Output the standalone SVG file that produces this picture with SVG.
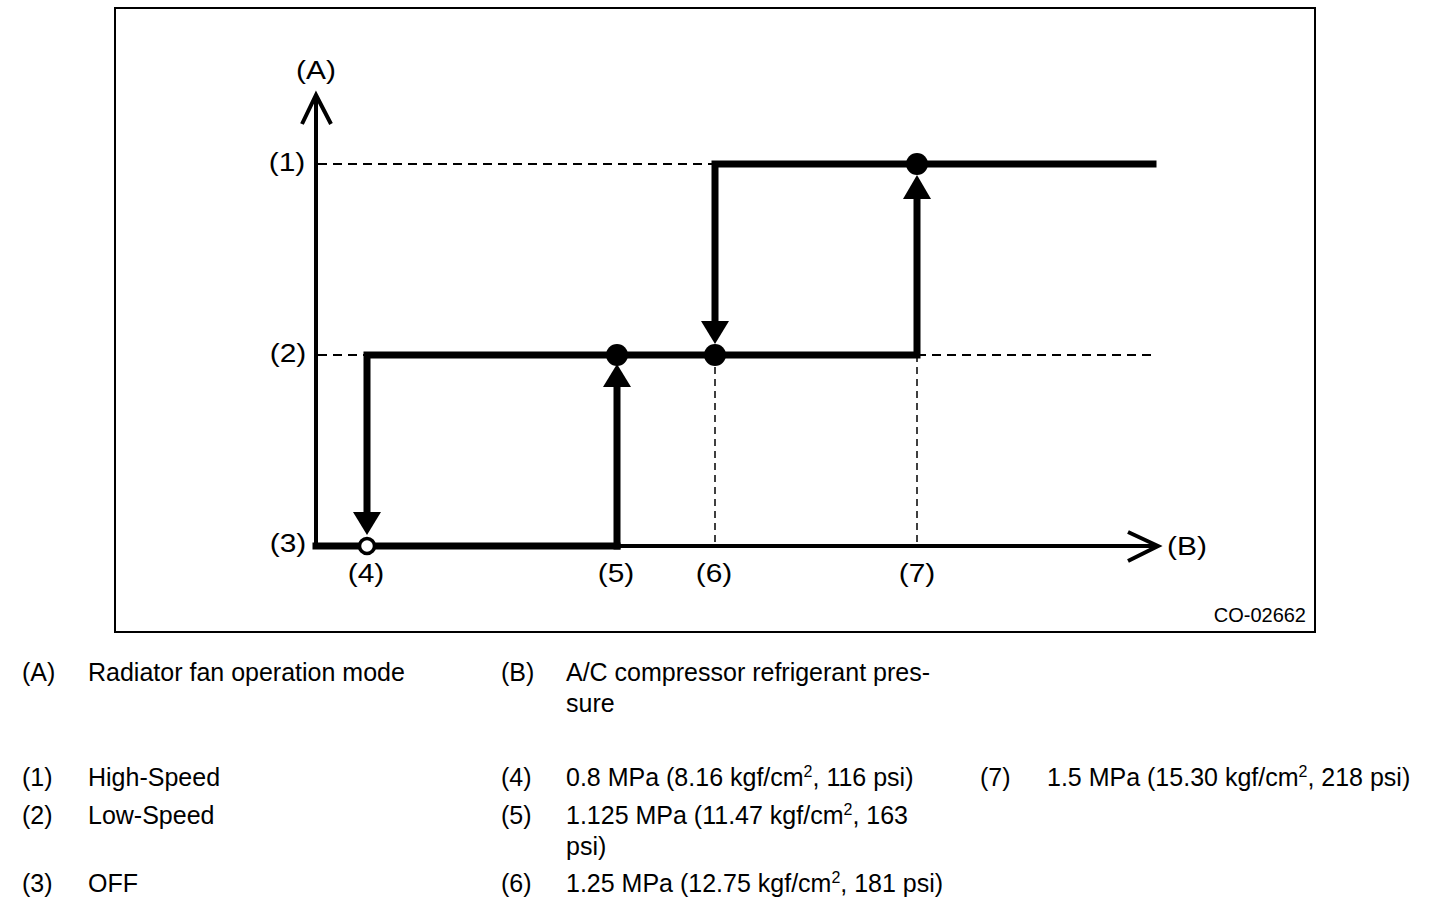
<svg xmlns="http://www.w3.org/2000/svg" width="1456" height="906" viewBox="0 0 1456 906">
<style>
.frame{fill:none;stroke:#000;stroke-width:2}
.axis{fill:none;stroke:#000;stroke-width:4}
.thick{fill:none;stroke:#000;stroke-width:7;stroke-linecap:square}
.dash{fill:none;stroke:#000;stroke-width:2;stroke-dasharray:9 6}
.vdash{fill:none;stroke:#000;stroke-width:1.5;stroke-dasharray:7 5}
.lbl{font-family:"Liberation Sans",Arial,sans-serif;font-size:26px;fill:#000;text-anchor:middle}
.leg{font-family:"Liberation Sans",Arial,sans-serif;font-size:25px;fill:#000}
.sup{font-size:16px}
.code{font-family:"Liberation Sans",Arial,sans-serif;font-size:20px;fill:#000;text-anchor:end}
</style>
<rect class="frame" x="115" y="8" width="1200" height="624"/>
<g id="connectors">
  <line class="dash" x1="318" y1="164" x2="715" y2="164"/>
  <line class="dash" x1="318" y1="355" x2="367" y2="355"/>
  <line class="dash" x1="917" y1="355" x2="1157" y2="355"/>
  <line class="vdash" x1="715" y1="355" x2="715" y2="546"/>
  <line class="vdash" x1="917" y1="355" x2="917" y2="546"/>
  <polyline class="axis" points="316,546 316,95"/>
  <polyline class="axis" points="302,124 316,95 331,124"/>
  <line class="axis" x1="316" y1="546" x2="1158" y2="546"/>
  <polyline class="axis" points="1128,532 1158,546 1128,561"/>
  <line class="thick" x1="316" y1="546" x2="617" y2="546"/>
  <polyline class="thick" points="367,520 367,355 917,355 917,195"/>
  <line class="thick" x1="617" y1="546" x2="617" y2="384"/>
  <polyline class="thick" points="715,330 715,164 1153,164"/>
  <polygon points="353,512 381,512 367,535"/>
  <polygon points="603,387 631,387 617,364"/>
  <polygon points="701,321 729,321 715,344"/>
  <polygon points="903,199 931,199 917,175"/>
</g>
<g id="node-4"><circle cx="367" cy="546" r="7.5" fill="#fff" stroke="#000" stroke-width="3.5"/></g>
<g id="node-5"><circle cx="617" cy="355" r="11" fill="#000"/></g>
<g id="node-6"><circle cx="715" cy="355" r="11" fill="#000"/></g>
<g id="node-7"><circle cx="917" cy="164" r="11" fill="#000"/></g>
<g id="labels">
  <text class="lbl" transform="translate(316,79) scale(1.15,1)">(A)</text>
  <text class="lbl" transform="translate(287,171) scale(1.15,1)">(1)</text>
  <text class="lbl" transform="translate(288,362) scale(1.15,1)">(2)</text>
  <text class="lbl" transform="translate(288,552) scale(1.15,1)">(3)</text>
  <text class="lbl" transform="translate(366,582) scale(1.15,1)">(4)</text>
  <text class="lbl" transform="translate(616,582) scale(1.15,1)">(5)</text>
  <text class="lbl" transform="translate(714,582) scale(1.15,1)">(6)</text>
  <text class="lbl" transform="translate(917,582) scale(1.15,1)">(7)</text>
  <text class="lbl" transform="translate(1187,555) scale(1.15,1)">(B)</text>
  <text class="code" x="1306" y="622">CO-02662</text>
</g>
<g id="legend">
  <text class="leg" x="22" y="681">(A)</text>
  <text class="leg" x="88" y="681">Radiator fan operation mode</text>
  <text class="leg" x="501" y="681">(B)</text>
  <text class="leg" x="566" y="681">A/C compressor refrigerant pres-</text>
  <text class="leg" x="566" y="712">sure</text>
  <text class="leg" x="22" y="786">(1)</text>
  <text class="leg" x="88" y="786">High-Speed</text>
  <text class="leg" x="22" y="824">(2)</text>
  <text class="leg" x="88" y="824">Low-Speed</text>
  <text class="leg" x="22" y="892">(3)</text>
  <text class="leg" x="88" y="892">OFF</text>
  <text class="leg" x="501" y="786">(4)</text>
  <text class="leg" x="566" y="786">0.8 MPa (8.16 kgf/cm<tspan class="sup" dy="-9">2</tspan><tspan dy="9">, 116 psi)</tspan></text>
  <text class="leg" x="501" y="824">(5)</text>
  <text class="leg" x="566" y="824">1.125 MPa (11.47 kgf/cm<tspan class="sup" dy="-9">2</tspan><tspan dy="9">, 163</tspan></text>
  <text class="leg" x="566" y="855">psi)</text>
  <text class="leg" x="501" y="892">(6)</text>
  <text class="leg" x="566" y="892">1.25 MPa (12.75 kgf/cm<tspan class="sup" dy="-9">2</tspan><tspan dy="9">, 181 psi)</tspan></text>
  <text class="leg" x="980" y="786">(7)</text>
  <text class="leg" x="1047" y="786">1.5 MPa (15.30 kgf/cm<tspan class="sup" dy="-9">2</tspan><tspan dy="9">, 218 psi)</tspan></text>
</g>
</svg>
